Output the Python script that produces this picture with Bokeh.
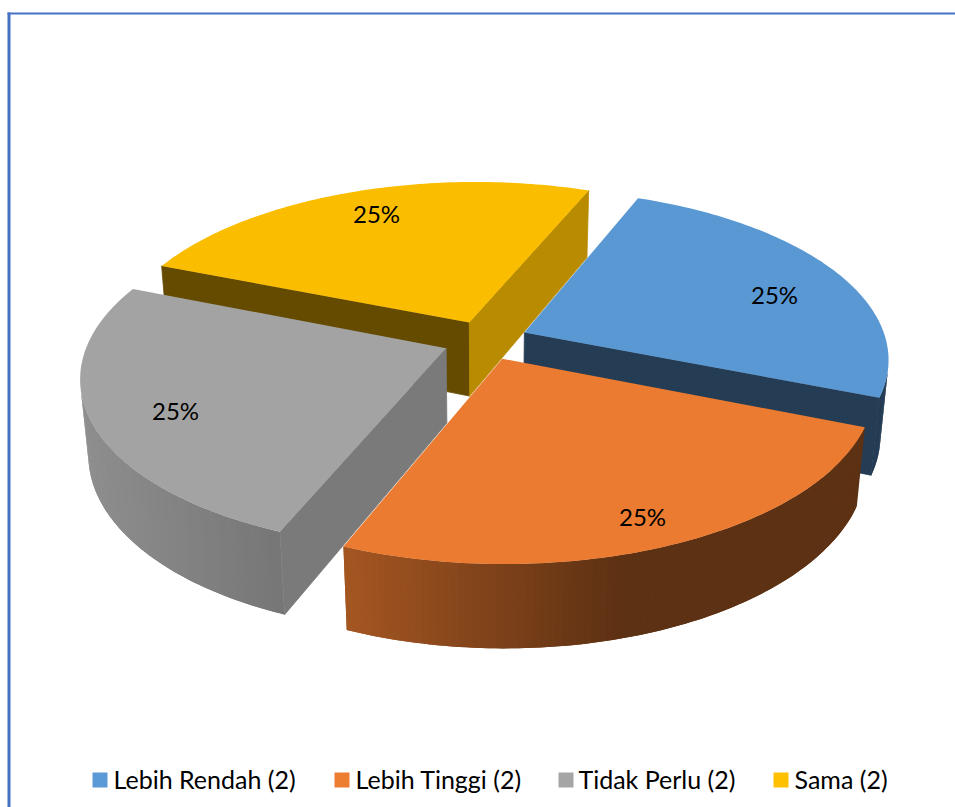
import numpy as np
from bokeh.embed import file_html
from bokeh.models import ColumnDataSource, Range1d
from bokeh.plotting import figure
from bokeh.resources import INLINE
from bokeh.core.properties import value

# ---- data ----
categories = ["Lebih Rendah (2)", "Lebih Tinggi (2)", "Tidak Perlu (2)", "Sama (2)"]
counts = [2, 2, 2, 2]

# ---- styles ----
top_colors = ["#5A98D4", "#EA7B30", "#A3A3A3", "#FBBD00"]
legend_colors = ["#5B9BD5", "#ED7D31", "#A5A5A5", "#FFC000"]
cut_shades = [(0.40, 0.40), (0.70, 0.40), (0.75, 0.75), (0.40, 0.74)]
draw_order = [3, 0, 2, 1]
border_color = "#4472C4"
FONT = "Lato"
LABEL_SIZE = "24px"
LEGEND_SIZE = "25px"

# ---- layout: camera of the 3-D pie, in page pixels ----
CX, CY = 485.0, 339.8
H1 = (333.0, 62.0)
H2 = (136.0, -155.4)
P, Q = -0.062, 0.1415
EXPLODE = 0.118
DEPTH, DEPTH_W = 76.0, 0.02
label_x = [774, 642, 175, 376]
label_y = [293.5, 515.5, 409.5, 212.5]
legend_box_x = [92, 334, 558, 773]
legend_text_x = [113, 355, 578, 794]
legend_y = 779.5
legend_text_y = 778


def project(u, v, z=0.0):
    w = 1 + P * u + Q * v + DEPTH_W * z
    x = (H1[0] * u + H2[0] * v) / w + CX
    y = (H1[1] * u + H2[1] * v + DEPTH * z) / w + CY
    return x, y


def hex_rgb(c):
    return np.array([int(c[i:i + 2], 16) for i in (1, 3, 5)], dtype=float)


def shaded(c, s):
    r = np.clip(hex_rgb(c) * s, 0, 255).astype(int)
    return "#%02x%02x%02x" % tuple(r)


def wall_shade(x):
    return float(np.interp(x, [80, 280, 342, 620, 955], [0.88, 0.73, 0.71, 0.40, 0.40]))


def signed_area(xs, ys):
    xs, ys = np.asarray(xs), np.asarray(ys)
    return 0.5 * float(np.sum(xs * np.roll(ys, -1) - np.roll(xs, -1) * ys))


total = sum(counts)
edges = np.concatenate([[0.0], np.cumsum(counts)]) / total * 2 * np.pi
percents = ["%d%%" % round(100 * c / total) for c in counts]

faces = {"xs": [], "ys": [], "color": [], "lw": []}


def add_face(xs, ys, color, lw=0.0):
    faces["xs"].append([float(a) for a in xs])
    faces["ys"].append([float(a) for a in ys])
    faces["color"].append(color)
    faces["lw"].append(lw)


for i in draw_order:
    a0, a1 = edges[i], edges[i + 1]
    mid = (a0 + a1) / 2
    au, av = EXPLODE * np.sin(mid), EXPLODE * np.cos(mid)
    th = np.linspace(a0, a1, 91)
    u = au + np.sin(th)
    v = av + np.cos(th)
    xt, yt = project(u, v)
    xb, yb = project(u, v, 1.0)
    ax, ay = project(au, av)
    axb, ayb = project(au, av, 1.0)
    top_x = np.r_[ax, xt]
    top_y = np.r_[ay, yt]
    sign = np.sign(signed_area(top_x, top_y))

    # outer wall: strips with a shade that follows the page x; each strip
    # overlaps the next so that no seams show; back faces are culled
    n = len(th) - 1
    for k in range(n):
        e = min(k + 2, n)
        xs = np.r_[xt[k:e + 1][::-1], xb[k:e + 1]]
        ys = np.r_[yt[k:e + 1][::-1], yb[k:e + 1]]
        fx = [xt[k + 1], xt[k], xb[k], xb[k + 1]]
        fy = [yt[k + 1], yt[k], yb[k], yb[k + 1]]
        if signed_area(fx, fy) * sign > 0:
            add_face(xs, ys, shaded(top_colors[i], wall_shade(np.mean(fx))))

    # cut walls
    fx = [xt[0], ax, axb, xb[0]]
    fy = [yt[0], ay, ayb, yb[0]]
    if signed_area(fx, fy) * sign > 0:
        add_face(fx, fy, shaded(top_colors[i], cut_shades[i][0]), 0.8)
    fx = [ax, xt[-1], xb[-1], axb]
    fy = [ay, yt[-1], yb[-1], ayb]
    if signed_area(fx, fy) * sign > 0:
        add_face(fx, fy, shaded(top_colors[i], cut_shades[i][1]), 0.8)

    add_face(top_x, top_y, top_colors[i])

W, H = 955, 807
p = figure(width=W, height=H, x_range=Range1d(0, W), y_range=Range1d(H, 0),
           output_backend="svg", toolbar_location=None, min_border=0,
           background_fill_color="white", border_fill_color="white")
p.axis.visible = False
p.grid.visible = False
p.outline_line_color = None

p.line([8.5, 8.5], [12, H], line_color=border_color, line_width=3)
p.line([7, W], [13, 13], line_color=border_color, line_width=2)

p.patches("xs", "ys", source=ColumnDataSource(faces), fill_color="color",
          line_color="color", line_width="lw")

p.text(label_x, label_y, text=percents, text_font=value(FONT), text_font_size=value(LABEL_SIZE),
       text_color="#000000", text_align="center", text_baseline="middle")

p.rect([b + 7.5 for b in legend_box_x], [legend_y] * 4, width=15, height=15,
       fill_color=legend_colors, line_color=None)
p.text(legend_text_x, [legend_text_y] * 4, text=categories, text_font=value(FONT),
       text_font_size=value(LEGEND_SIZE), text_color="#000000",
       text_align="left", text_baseline="middle")

open("out.html", "w").write(file_html(p, INLINE))
